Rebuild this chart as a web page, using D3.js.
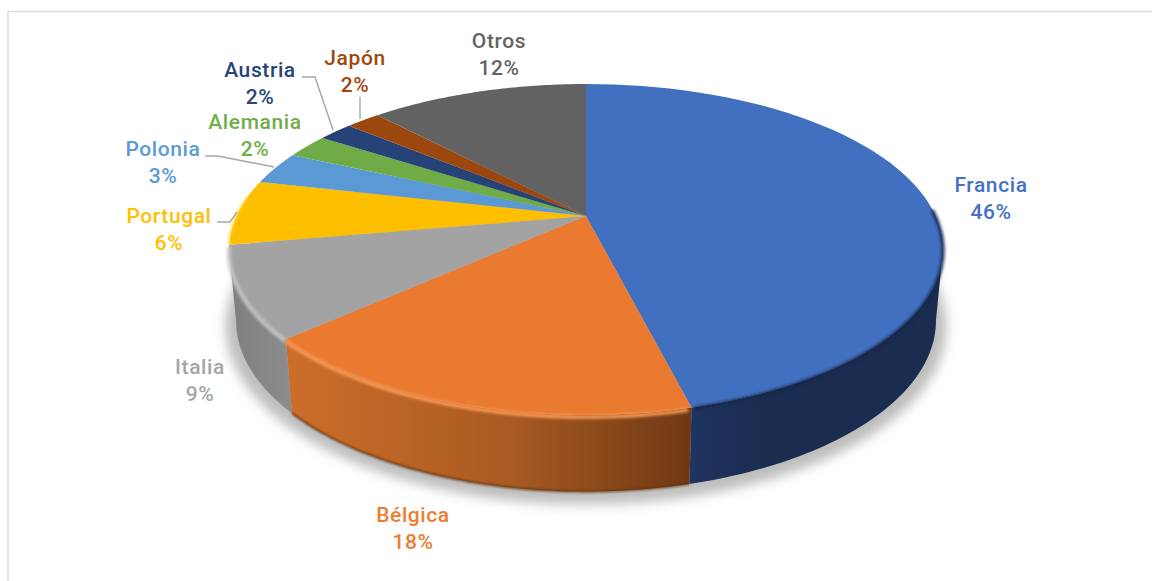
<!DOCTYPE html>
<html><head><meta charset="utf-8">
<script src="https://cdn.jsdelivr.net/npm/d3@7/dist/d3.min.js"></script>
<style>html,body{margin:0;padding:0;background:#fff}svg{display:block}text{font-family:Roboto,sans-serif;font-weight:500;font-size:21px;letter-spacing:.6px;text-anchor:middle}</style>
</head><body><script>
const categories=["Francia","Bélgica","Italia","Portugal","Polonia","Alemania","Austria","Japón","Otros"];
const shares=[46.1,17.2,8.9,6.4,3.2,2.4,1.9,1.9,12.0];
const percentLabels=["46%","18%","9%","6%","3%","2%","2%","2%","12%"];
const topColors=["#4270c1","#ea7a2f","#a3a3a3","#fdbf00","#5a99d4","#6fab46","#254377","#9c470e","#626262"];
const labelColors=["#4472c4","#ed7d31","#a5a5a5","#ffc000","#5b9bd5","#70ad47","#264478","#9e480e","#636363"];
const labelPos=[[991,192],[413,522],[200,374],[169,223],[163,156],[255,129],[260,77],[355,65],[499,48]];
const leaders=[[],[],[],[[217,222],[230,222],[237,212]],[[205,156],[218,156],[274,167]],[],[[302,77],[315,77],[333,130]],[[360,97],[360,119]],[]];
const W=1152,H=581,DEG=Math.PI/180;

// perspective disc: two rims of the same projective form
const cx=586,k=0.2024;
const topRim=t=>{const w=1+k*Math.cos(t);return [cx+349.6*Math.sin(t)/w,216-158.7*Math.cos(t)/w];};
const botRim=t=>{const w=1+k*Math.cos(t);return [cx+342.7*Math.sin(t)/w,286-164*Math.cos(t)/w];};
const sample=(a,b,fn)=>d3.range(0,61).map(i=>fn(a+(b-a)*i/60));
const line=d3.line();
const tangentR=Math.acos(-k),tangentL=2*Math.PI-tangentR;

const arcs=d3.pie().sort(null).value(d=>d)(shares);
const svg=d3.select("body").append("svg").attr("width",W).attr("height",H);
const defs=svg.append("defs");
[["shadow",6],["soft",1.5],["edge",1.1]].forEach(([id,s])=>{
  defs.append("filter").attr("id",id).attr("x","-20%").attr("y","-20%").attr("width","140%").attr("height","140%")
    .append("feGaussianBlur").attr("stdDeviation",s);
});
const sideGrad=[["g0",[["#1f3460",0],["#1a2c50",.3],["#1a2c50",1]],693,943],["g1",[["#cc6e2a",0],["#a85a22",.55],["#6e3813",1]],290,693],["g2",[["#7f7f7f",0],["#8d8d8d",1]],230,292]];
sideGrad.forEach(([id,st,x1,x2])=>{
  const g=defs.append("linearGradient").attr("id",id).attr("gradientUnits","userSpaceOnUse").attr("x1",x1).attr("x2",x2).attr("y1",0).attr("y2",0);
  st.forEach(([c,o])=>g.append("stop").attr("offset",o).attr("stop-color",c));
});

// frame
svg.append("path").attr("d",line([[8,H],[8,11.5],[W,11.5]])).attr("fill","none").attr("stroke","#dcdcdc").attr("stroke-width",1.6);

// ground shadow
const shadowPts=d3.range(0,181).map(i=>{const p=botRim(i*2*DEG);return [cx+(p[0]-cx)*1.03,300+(p[1]-300)*1.04+5];});
svg.append("path").attr("d",line(shadowPts)+"Z").attr("fill","#bdbdbd").attr("filter","url(#shadow)");

// side walls (only the first three slices face the viewer)
const wallFill=["url(#g0)","url(#g1)","url(#g2)"];
[2,1,0].forEach(i=>{
  const a=arcs[i];
  const s=Math.max(a.startAngle,tangentR),e=Math.min(a.endAngle,tangentL);
  const tp=sample(s,e,topRim),bt=sample(s,e,botRim).reverse();
  svg.append("path").attr("d",line(tp.concat(bt))+"Z").attr("fill",wallFill[i]);
});
// thin dark lip under the lower rim of the orange wall
svg.append("path").attr("d",line(sample(arcs[1].startAngle,arcs[1].endAngle,botRim))).attr("fill","none").attr("stroke","#5c2d0c").attr("stroke-width",1.6).attr("filter","url(#edge)");

// top face slices
svg.append("g").selectAll("path").data(arcs).join("path")
  .attr("d",a=>line([[cx,216]].concat(sample(a.startAngle,a.endAngle,topRim)))+"Z")
  .attr("fill",(a,i)=>topColors[i]);

// bevel shading along the rim
const rimLine=(a,b,dy)=>line(sample(a,b,t=>{const p=topRim(t);return [p[0],p[1]+dy];}));
[[tangentR-.25,arcs[0].endAngle-.006,1,"#16264a",3.2]].forEach(([a,b,dy,c,w])=>{
  svg.append("path").attr("d",rimLine(a,b,dy)).attr("fill","none").attr("stroke",c).attr("stroke-width",w).attr("filter","url(#soft)");
});
[[arcs[1].startAngle+.008,arcs[1].endAngle,2,"#ff9d58",3.6],[arcs[2].startAngle+.004,arcs[2].endAngle,2,"#c6c6c6",4],[arcs[3].startAngle,arcs[3].startAngle+.3,0,"#ffd83c",2]].forEach(([a,b,dy,c,w])=>{
  svg.append("path").attr("d",rimLine(a,b,dy)).attr("fill","none").attr("stroke",c).attr("stroke-width",w).attr("filter","url(#soft)");
});

// labels
const lab=svg.append("g").selectAll("text").data(arcs).join("text")
  .attr("x",(a,i)=>labelPos[i][0]).attr("y",(a,i)=>labelPos[i][1]).attr("fill",(a,i)=>labelColors[i]);
lab.append("tspan").attr("x",(a,i)=>labelPos[i][0]).text((a,i)=>categories[i]);
lab.append("tspan").attr("x",(a,i)=>labelPos[i][0]).attr("dy",26.6).text((a,i)=>percentLabels[i]);

// leader lines
svg.append("g").selectAll("path").data(leaders.filter(l=>l.length)).join("path")
  .attr("d",line).attr("fill","none").attr("stroke","#a6a6a6").attr("stroke-width",1.4);
</script></body></html>
